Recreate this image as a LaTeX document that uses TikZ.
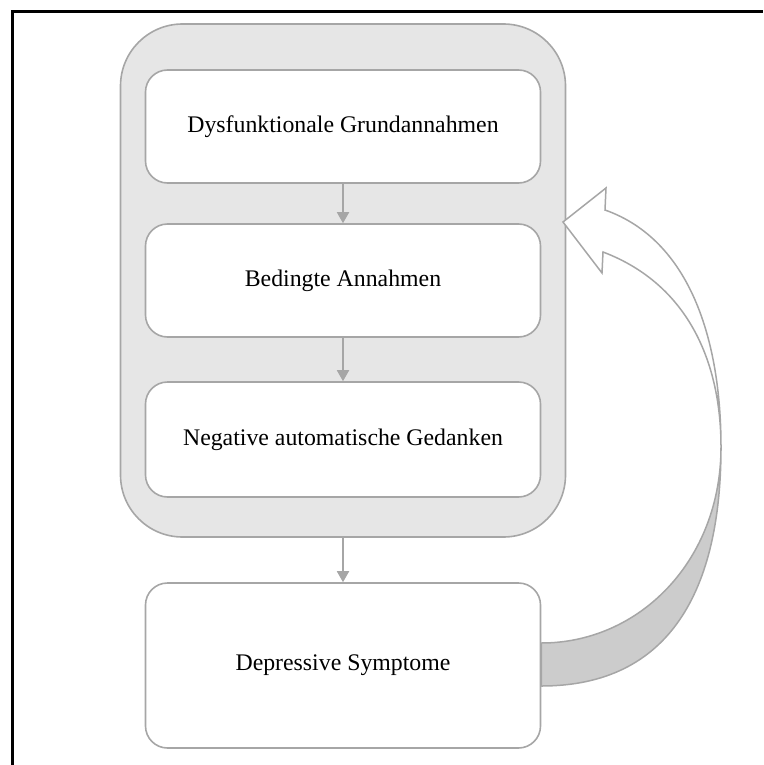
\documentclass[tikz,border=0pt]{standalone}
\usepackage{fontspec}
\setmainfont{Liberation Serif}
\usetikzlibrary{arrows.meta}
\definecolor{linegray}{RGB}{166,166,166}
\definecolor{panelgray}{RGB}{230,230,230}
\definecolor{bandgray}{RGB}{204,204,204}

\begin{document}
\begin{tikzpicture}[x=1pt, y=-1pt,
  level/.style={draw=linegray, line width=1.6pt, fill=white, rounded corners=22pt,
    minimum width=395pt, minimum height=113pt, font=\fontsize{23.8}{28}\selectfont},
  flow/.style={draw=linegray, line width=1.8pt, -{Triangle[width=12pt,length=11pt]}},
  backarrow/.style={draw=linegray, line width=1.5pt}]
  \useasboundingbox (0,0) rectangle (763,765);
  \draw[line width=3pt] (12,765) -- (12,11.5) -- (763,11.5);

  \node (schema) [draw=linegray, line width=1.6pt, fill=panelgray, rounded corners=62pt,
    minimum width=445pt, minimum height=513pt] at (343,280.5) {};
  \node (b1) [level] at (343,126.5) {Dysfunktionale Grundannahmen};
  \node (b2) [level] at (343,280.5) {Bedingte Annahmen};
  \node (b3) [level, minimum height=115pt] at (343,439.5) {Negative automatische Gedanken};
  \node (b4) [level, minimum height=165pt] at (343,665.5) {Depressive Symptome};

  \draw[flow] (b1) -- (b2);
  \draw[flow] (b2) -- (b3);
  \draw[flow] (schema.south) -- (b4.north);

  % curved arrow back to the schema
  \coordinate (twist) at (721,447);
  \coordinate (tailhi) at ([yshift=22.5pt]b4.east);
  \coordinate (taillo) at ([yshift=-20.5pt]b4.east);
  \coordinate (tip) at (563,222);
  \filldraw[backarrow, fill=bandgray, line join=round]
    (twist) .. controls (721,590) and (670,686) .. (taillo) -- (tailhi)
    .. controls (640,643) and (721,560) .. (twist);
  \filldraw[backarrow, fill=white]
    (twist) .. controls (721,340) and (690,240) .. (605,210) -- (606,188) -- (tip)
    -- (602,273) -- (603,252) .. controls (690,285) and (721,365) .. (twist) -- cycle;
\end{tikzpicture}
\end{document}
